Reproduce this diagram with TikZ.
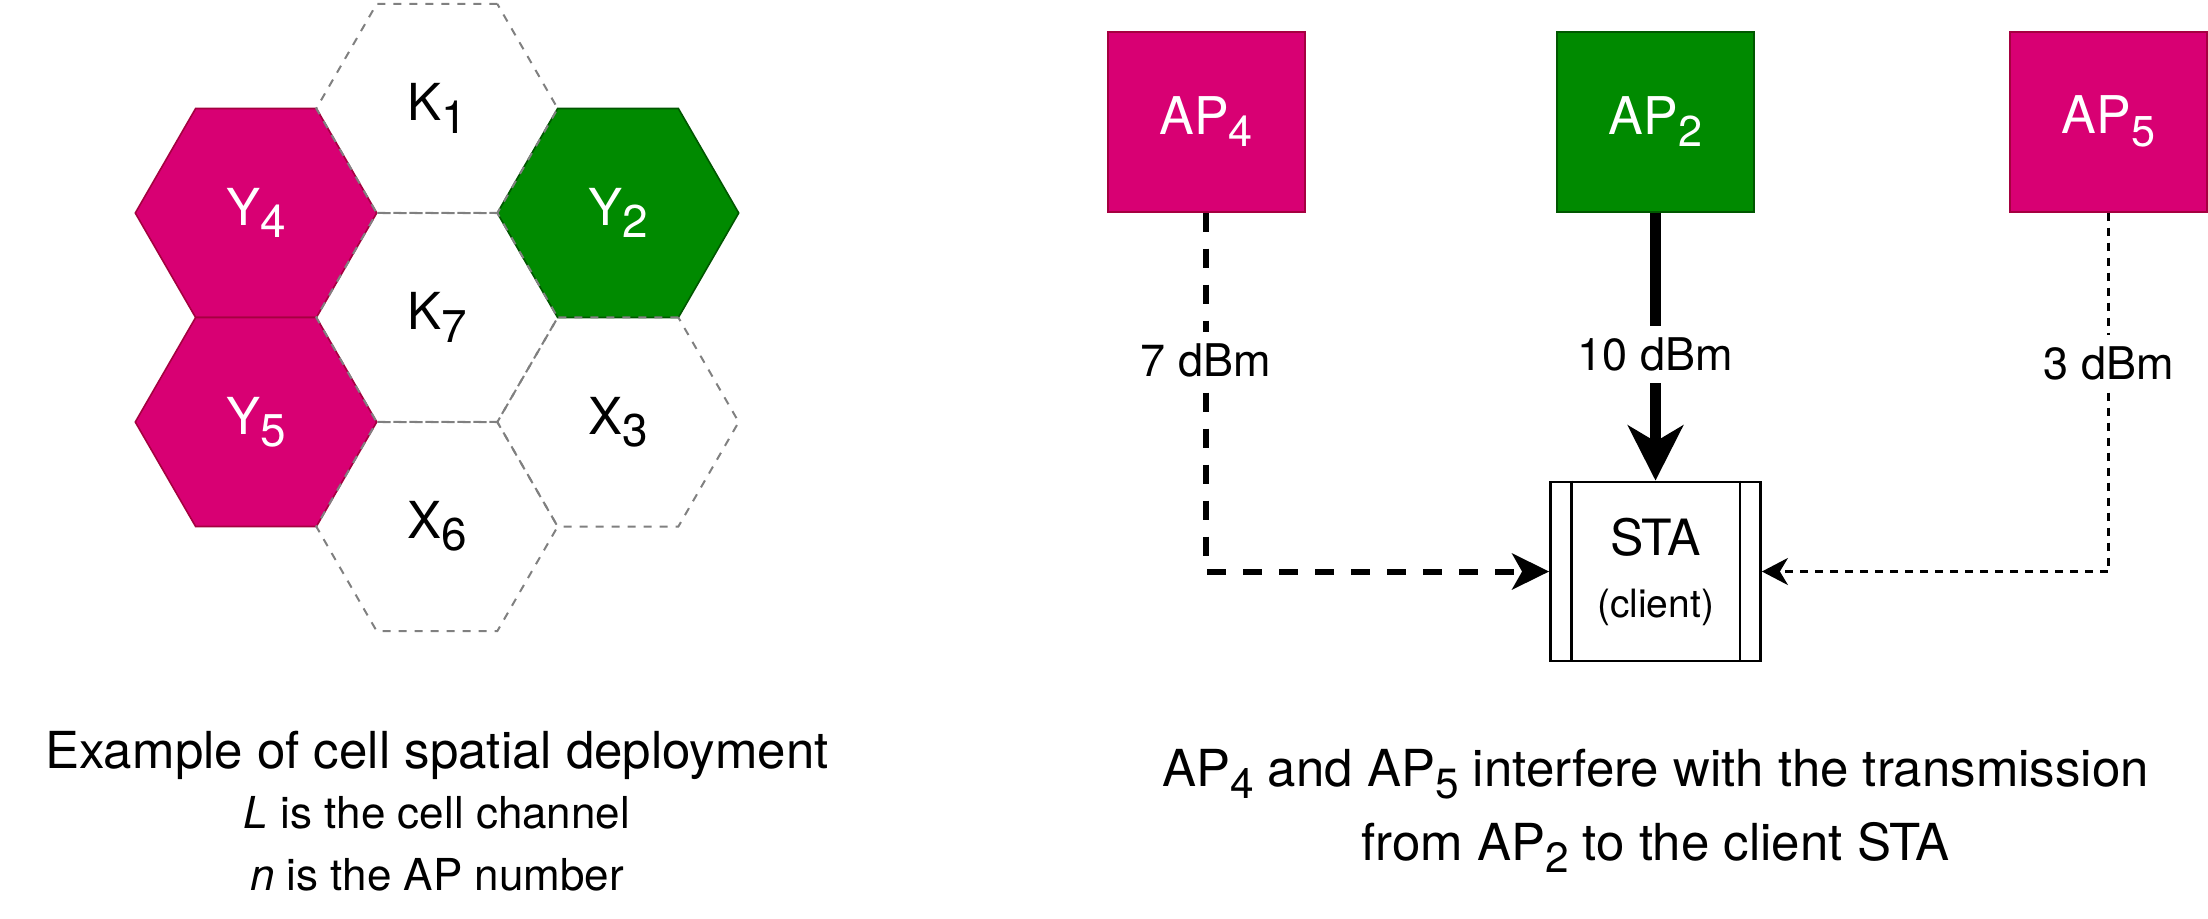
\documentclass[tikz,border=0pt]{standalone}
\usepackage{fontspec}
\setmainfont{TeX Gyre Heros}
\usepackage{graphicx}
\usetikzlibrary{arrows.meta, positioning, calc, shapes.geometric}

\definecolor{apmagenta}{HTML}{D80073}
\definecolor{apmagentaedge}{HTML}{A50040}
\definecolor{apgreen}{HTML}{008A00}
\definecolor{apgreenedge}{HTML}{005700}
\definecolor{cellgray}{HTML}{808080}

\newcommand{\lowsub}[1]{\raisebox{-0.24em}{\scalebox{0.83}{#1}}}
\newcommand{\cellsub}[1]{\raisebox{-0.24em}{\scalebox{0.9}{#1}}}

\tikzset{
  hexcell/.style={regular polygon, regular polygon sides=6, minimum size=120.7pt,
    inner sep=0pt, font=\fontsize{25.5pt}{30pt}\selectfont},
  emptycell/.style={hexcell, draw=cellgray, line width=1pt, dash pattern=on 4pt off 4pt},
  magentacell/.style={hexcell, fill=apmagenta, draw=apmagentaedge, line width=0.8pt, text=white},
  greencell/.style={hexcell, fill=apgreen, draw=apgreenedge, line width=0.8pt, text=white},
  apbox/.style={rectangle, minimum width=98.5pt, minimum height=90pt, inner sep=0pt,
    line width=1pt, text=white, font=\fontsize{26pt}{30pt}\selectfont},
  interferer/.style={apbox, fill=apmagenta, draw=apmagentaedge},
  serving/.style={apbox, fill=apgreen, draw=apgreenedge},
  stabox/.style={rectangle, draw, line width=1.4pt, minimum width=105pt, minimum height=89.5pt,
    inner sep=0pt, align=center, font=\fontsize{25pt}{31pt}\selectfont},
  dblabel/.style={fill=white, inner xsep=2pt, inner ysep=6pt, font=\fontsize{22.5pt}{27pt}\selectfont},
  caption/.style={anchor=base, font=\fontsize{25.5pt}{30pt}\selectfont},
  subcaption/.style={anchor=base, font=\fontsize{22pt}{26pt}\selectfont}
}

\begin{document}
\begin{tikzpicture}[x=0.5pt, y=-0.5pt]
  \useasboundingbox (0,0) rectangle (2208,918);

  % Coloured cells
  \node[magentacell] (y4) at (256,213) {Y\cellsub{4}};
  \node[magentacell] (y5) at (256,422) {Y\cellsub{5}};
  \node[greencell] (y2) at (618,213) {Y\cellsub{2}};

  % Empty cells
  \node[emptycell] (k1) at (437,108.5) {K\cellsub{1}};
  \node[emptycell] (k7) at (437,317.5) {K\cellsub{7}};
  \node[emptycell] (x6) at (437,526.5) {X\cellsub{6}};
  \node[emptycell] (x3) at (618,422) {X\cellsub{3}};

  % Left caption
  \node[caption] (capleft) at (437,768) {Example of cell spatial deployment};
  \node[subcaption] (capleftb) at (437,828) {\textit{L} is the cell channel};
  \node[subcaption] (capleftc) at (437,890.7) {\textit{n} is the AP number};

  % Access points
  \node[interferer] (ap4) at (1206,121.5) {AP\lowsub{4}};
  \node[serving] (ap2) at (1655.5,121.5) {AP\lowsub{2}};
  \node[interferer] (ap5) at (2108.5,121.5) {AP\lowsub{5}};

  % Client station
  \node[stabox] (sta) at (1655.5,571.5) {STA\\{\fontsize{19.5pt}{31pt}\selectfont (client)}};
  \draw[line width=1.4pt] ($(sta.north west)+(22,0)$) -- ($(sta.south west)+(22,0)$);
  \draw[line width=1.4pt] ($(sta.north east)+(-22,0)$) -- ($(sta.south east)+(-22,0)$);

  % Received powers
  \draw[line width=3pt, dash pattern=on 9.5pt off 8.5pt,
    -{Stealth[length=18.5pt, width=18pt, inset=5pt]}]
    (ap4.south) |- node[dblabel, pos=0.206] (lbl4) {7 dBm} (sta.west);
  \draw[line width=5.75pt, -{Stealth[length=27.5pt, width=27.5pt, inset=8pt]}]
    (ap2.south) -- node[dblabel, pos=0.53] (lbl2) {10 dBm} (sta.north);
  \draw[line width=1.5pt, dash pattern=on 4pt off 3.5pt,
    -{Stealth[length=13pt, width=13.5pt, inset=4pt]}]
    (ap5.south) |- node[dblabel, pos=0.21] (lbl5) {3 dBm} (sta.east);

  % Right caption
  \node[caption] (capright) at (1655.5,786.7) {AP\lowsub{4} and AP\lowsub{5} interfere with the transmission};
  \node[caption] (caprightb) at (1655.5,860) {from AP\lowsub{2} to the client STA};

\end{tikzpicture}
\end{document}
